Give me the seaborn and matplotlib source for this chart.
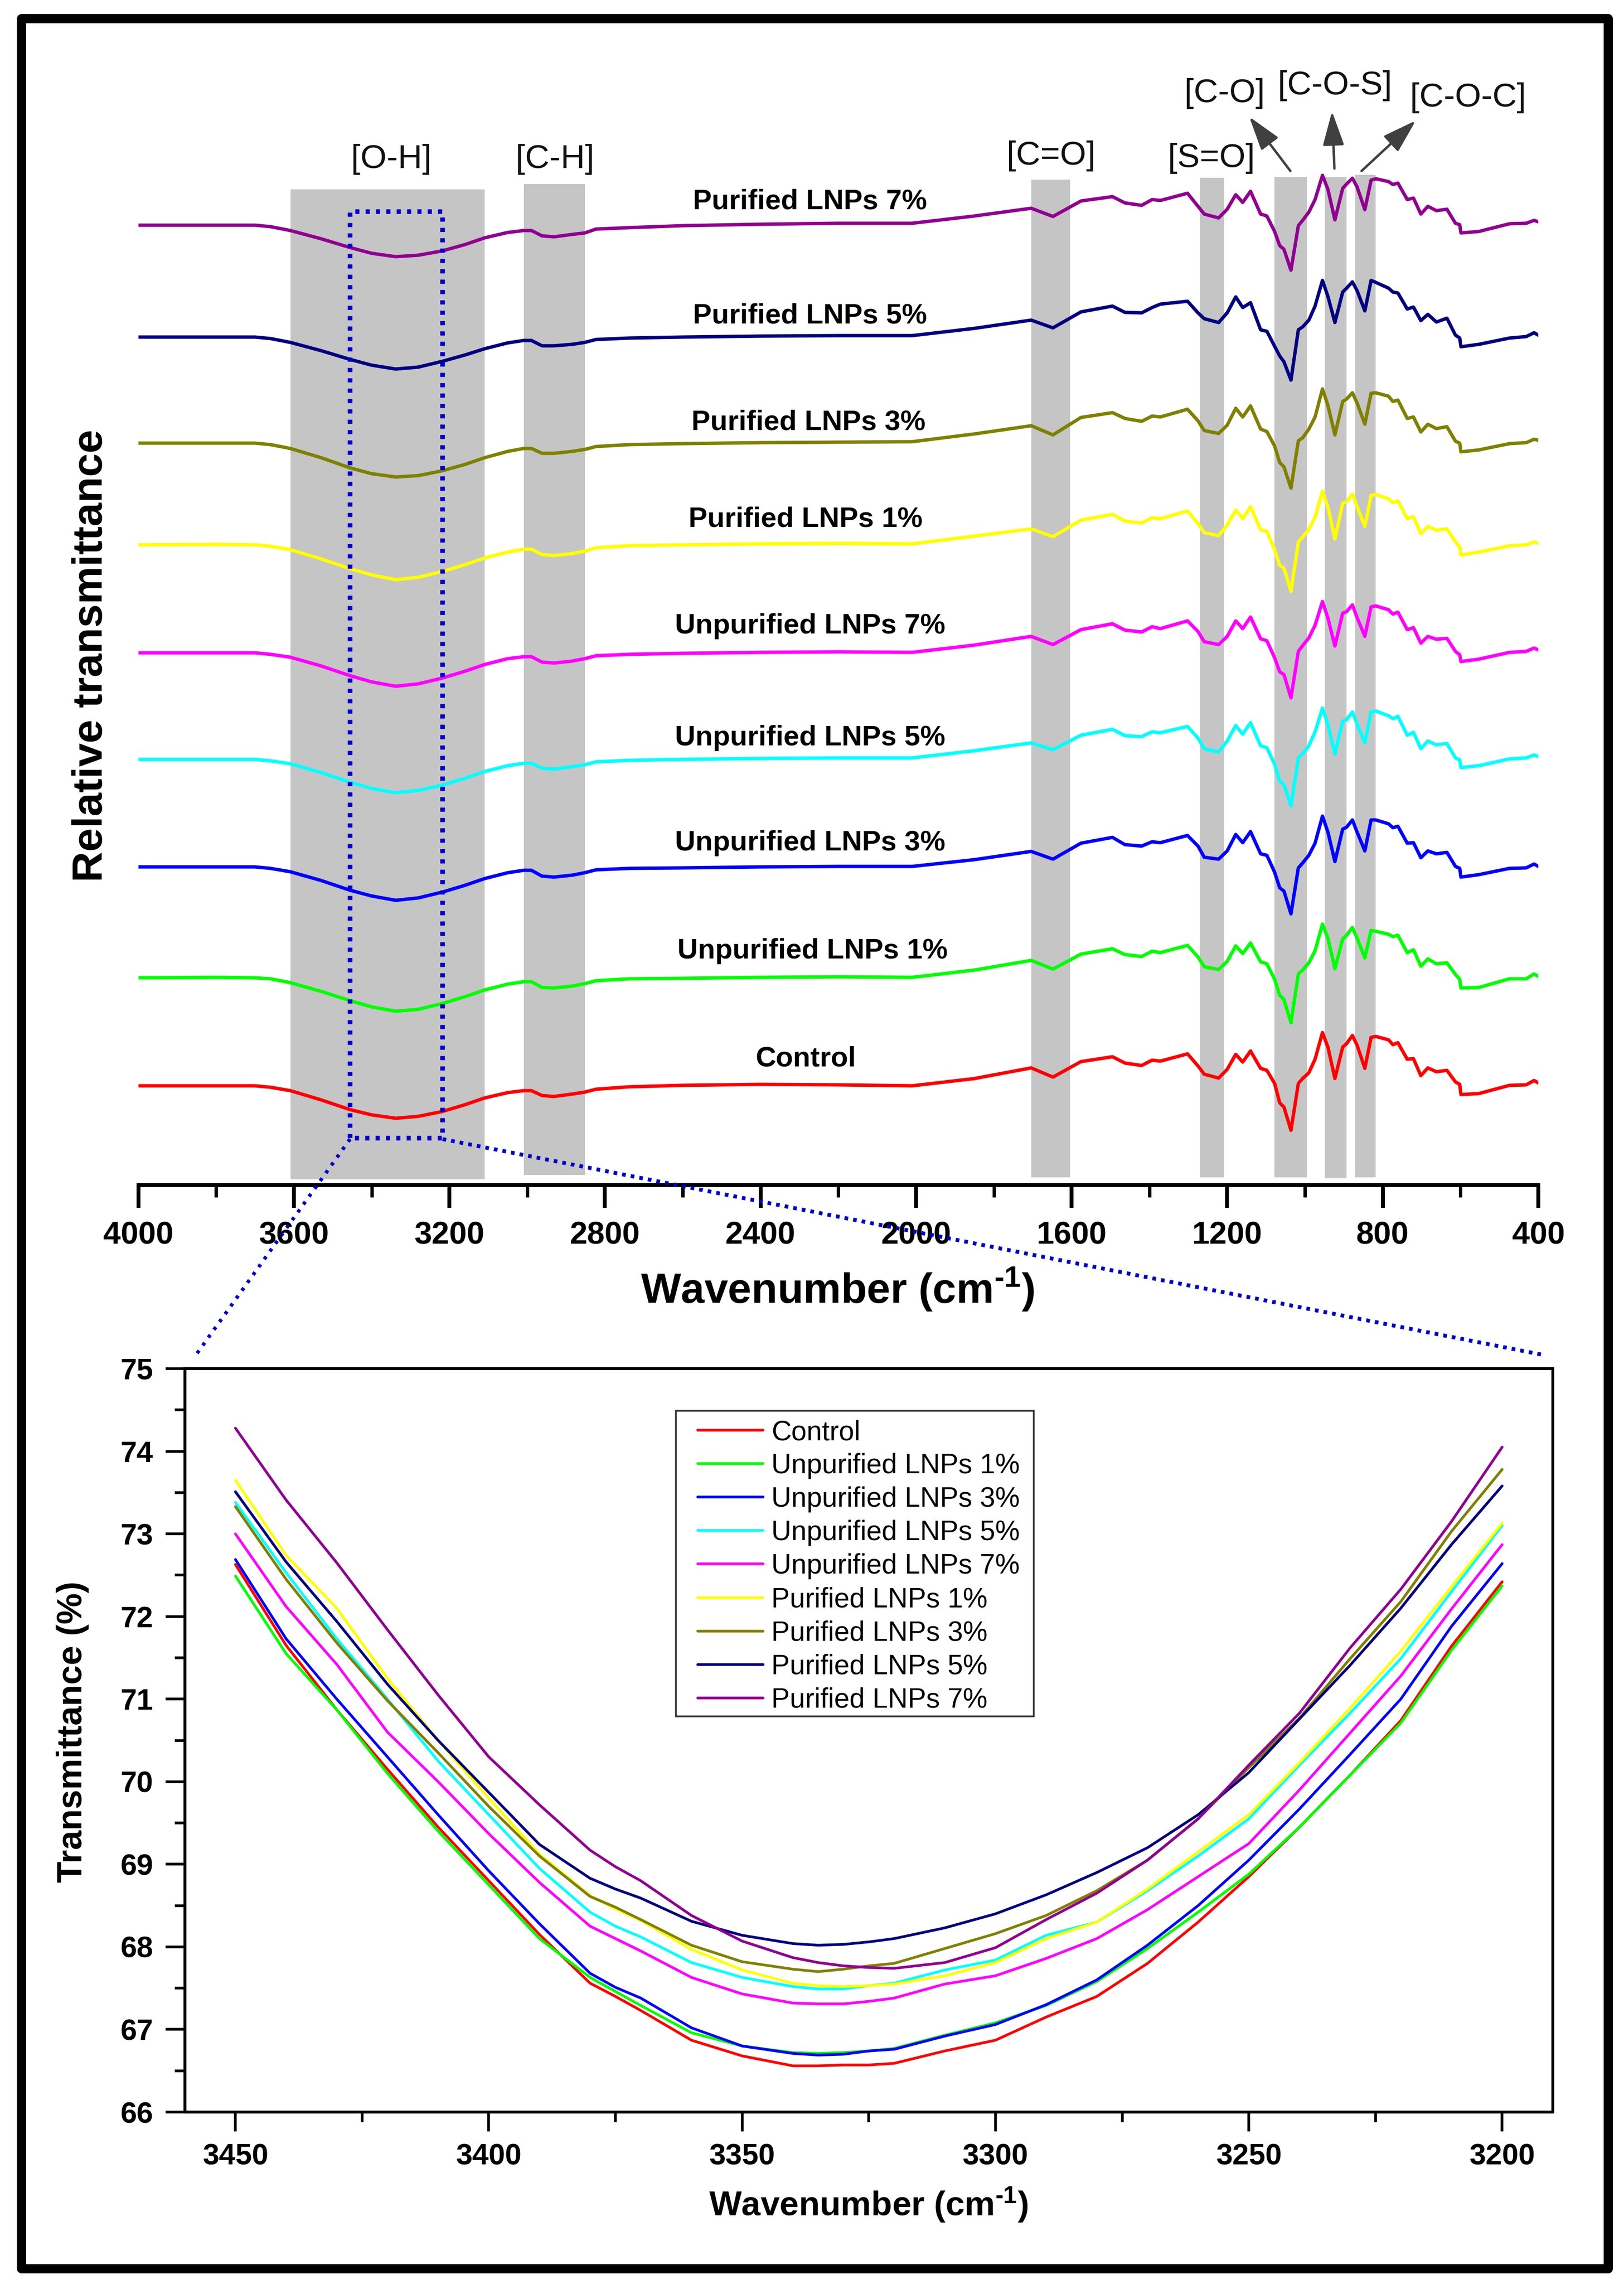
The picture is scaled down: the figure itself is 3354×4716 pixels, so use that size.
import pandas as pd
import seaborn as sns
import matplotlib.pyplot as plt
from matplotlib.patches import Rectangle

W, H = 3355, 4716
PT = 0.72  # px to pt at dpi 100

names = ['Control', 'Unpurified LNPs 1%', 'Unpurified LNPs 3%', 'Unpurified LNPs 5%',
         'Unpurified LNPs 7%', 'Purified LNPs 1%', 'Purified LNPs 3%', 'Purified LNPs 5%',
         'Purified LNPs 7%']
colors = ['#ff0000', '#00ff00', '#0000ff', '#00ffff', '#ff00ff', '#ffff00', '#808000',
          '#000080', '#900090']

# full spectra, each one relative to its own stacking offset
wavenumber = [4000, 3800, 3700, 3660, 3609, 3530, 3456, 3400, 3338, 3280, 3218, 3160, 3109, 3050,
              3009, 2989, 2962, 2931, 2884, 2852, 2823, 2737, 2600, 2400, 2200, 2010, 1850,
              1704, 1648, 1576, 1495, 1463, 1420, 1393, 1372, 1302, 1275, 1259, 1222, 1200,
              1178, 1160, 1140, 1114, 1098,
              1078, 1065, 1054, 1036, 1017, 1006, 990, 974, 955, 941, 923, 903, 893, 878,
              866, 846, 830, 818,
              785, 774, 761, 737, 721, 702, 684, 662, 635, 613, 602, 599, 553, 474, 431, 411, 400]
offsets = [205, 428, 657, 879, 1099, 1322, 1532, 1751, 1982]

control = [0, 0, 0, -3, -10, -29, -49, -60, -67, -63, -53, -39, -25, -14, -10, -10, -20, -22, -17,
           -13, -7, -2, 1, 3, 2, 0, 15,
           37, 18, 50, 60, 47, 42, 53, 51, 66, 41, 24, 16, 34, 65, 49, 72, 36, 32,
           5, -35, -44, -92, 5, 15, 27, 55, 110, 80, 15, 80, 87, 104, 84, 36, 100, 102,
           95, 85, 89, 55, 56, 21, 37, 29, 32, 8, 3, -18, -16, 1, 2, 11, 6]
unpurified_1 = [0, 1, 0, -2, -10, -28, -47, -60, -69, -65, -53, -39, -25, -13, -8, -8, -20, -21, -17,
                -12, -6, -2, -1, 1, 2, 1, 16,
                36, 18, 49, 60, 48, 44, 55, 52, 67, 43, 23, 17, 34, 66, 50, 72, 33, 29,
                -3, -36, -45, -93, 8, 16, 31, 56, 111, 82, 19, 80, 88, 104, 82, 41, 98, 96,
                90, 85, 88, 52, 58, 24, 39, 29, 31, 7, -3, -21, -20, -2, -2, 8, 3]
unpurified_3 = [0, 0, 0, -3, -10, -28, -48, -60, -69, -64, -52, -38, -24, -12, -7, -7, -19, -21, -17,
                -12, -6, -3, -2, 0, 1, 1, 15,
                32, 16, 49, 61, 46, 43, 52, 50, 65, 43, 20, 16, 33, 67, 50, 73, 27, 24,
                -11, -43, -50, -97, -2, 8, 24, 49, 105, 72, 11, 78, 82, 97, 72, 33, 97, 97,
                89, 81, 84, 49, 50, 19, 33, 27, 30, 1, -3, -21, -16, -3, -2, 6, 1]
unpurified_5 = [0, 0, 0, -3, -9, -27, -47, -60, -69, -64, -53, -39, -25, -13, -8, -8, -18, -20, -15,
                -11, -5, -2, 0, 2, 3, 3, 18,
                34, 20, 50, 62, 49, 47, 57, 55, 68, 44, 22, 15, 38, 70, 52, 76, 28, 24,
                -10, -45, -52, -96, 3, 12, 28, 57, 106, 72, 11, 79, 82, 98, 73, 34, 98, 100,
                90, 84, 89, 50, 56, 22, 38, 30, 33, 3, -1, -17, -13, 1, 3, 9, 6]
unpurified_7 = [0, 0, 0, -3, -9, -27, -47, -60, -69, -64, -52, -38, -24, -12, -8, -8, -19, -21, -17,
                -12, -6, -3, -1, 1, 2, 1, 16,
                34, 17, 48, 60, 47, 43, 54, 50, 66, 44, 23, 17, 34, 66, 50, 74, 29, 25,
                -10, -39, -45, -93, 3, 15, 31, 57, 106, 72, 14, 82, 85, 99, 73, 34, 95, 97,
                89, 80, 84, 48, 52, 20, 34, 28, 30, 3, -4, -18, -13, 1, 3, 10, 6]
purified_1 = [0, 1, 0, -3, -10, -29, -49, -62, -72, -67, -55, -41, -27, -15, -9, -9, -20, -22, -18,
              -13, -6, -2, 0, 2, 3, 2, 18,
              33, 17, 51, 63, 49, 45, 56, 54, 70, 44, 25, 19, 41, 72, 54, 79, 31, 28,
              -10, -42, -48, -96, 6, 16, 32, 57, 111, 78, 12, 86, 89, 105, 79, 38, 102, 104,
              95, 87, 91, 54, 58, 23, 38, 30, 33, 6, -4, -21, -15, -2, 0, 6, 3]
purified_3 = [0, 0, 0, -3, -11, -30, -51, -63, -70, -67, -57, -44, -30, -17, -11, -11, -21, -21, -17,
              -13, -7, -3, -1, 1, 2, 3, 19,
              36, 17, 53, 63, 51, 45, 56, 54, 70, 46, 26, 20, 37, 72, 54, 77, 29, 24,
              -6, -40, -49, -93, 5, 11, 29, 54, 112, 78, 17, 86, 91, 104, 83, 39, 103, 104,
              97, 86, 89, 51, 54, 23, 39, 30, 34, 4, 0, -18, -14, -1, 1, 8, 6]
purified_5 = [0, 0, 0, -3, -11, -28, -46, -58, -66, -62, -50, -37, -24, -12, -7, -7, -18, -18, -15,
              -11, -5, -2, 0, 2, 3, 3, 18,
              35, 19, 52, 64, 51, 50, 61, 68, 74, 50, 38, 30, 50, 83, 61, 71, 15, 12,
              -19, -39, -51, -89, 15, 21, 35, 64, 117, 84, 30, 93, 101, 114, 96, 54, 117, 113,
              101, 93, 91, 58, 62, 34, 47, 31, 39, 4, -2, -20, -15, -2, 1, 9, 4]
purified_7 = [0, 0, 0, -3, -11, -28, -46, -58, -65, -62, -53, -40, -26, -15, -11, -11, -22, -24, -19,
              -16, -8, -5, -1, 2, 4, 4, 19,
              35, 18, 50, 59, 46, 41, 53, 51, 66, 39, 23, 15, 33, 63, 47, 70, 23, 19,
              -13, -42, -50, -93, -1, 10, 27, 53, 103, 74, 11, 76, 85, 97, 79, 32, 93, 96,
              90, 84, 87, 53, 56, 23, 39, 30, 33, 4, 1, -16, -13, 3, 4, 10, 7]
spectra = [control, unpurified_1, unpurified_3, unpurified_5, unpurified_7,
           purified_1, purified_3, purified_5, purified_7]

# zoomed O-H region
zoom_wavenumber = [3450, 3440, 3430, 3420, 3410, 3400, 3390, 3380, 3375, 3370, 3360, 3350, 3340,
                   3335, 3330, 3325, 3320, 3310, 3300, 3290, 3280, 3270, 3260, 3250, 3240, 3230,
                   3220, 3210, 3200]
t_control = [72.63, 71.65, 70.87, 70.15, 69.45, 68.80, 68.15, 67.56, 67.40, 67.23, 66.87, 66.68, 66.56,
             66.56, 66.57, 66.57, 66.59, 66.74, 66.87, 67.15, 67.40, 67.80, 68.30, 68.85, 69.45, 70.08,
             70.74, 71.64, 72.42]
t_unpurified_1 = [72.49, 71.55, 70.87, 70.10, 69.40, 68.75, 68.10, 67.63, 67.46, 67.29, 66.96, 66.80, 66.72,
                  66.71, 66.72, 66.74, 66.77, 66.93, 67.08, 67.29, 67.58, 67.98, 68.42, 68.88, 69.45, 70.08,
                  70.71, 71.59, 72.37]
t_unpurified_3 = [72.69, 71.73, 71.00, 70.30, 69.60, 68.92, 68.28, 67.68, 67.51, 67.38, 67.02, 66.80, 66.71,
                  66.69, 66.70, 66.74, 66.76, 66.92, 67.06, 67.30, 67.60, 68.02, 68.50, 69.05, 69.67, 70.33,
                  71.00, 71.88, 72.64]
t_unpurified_5 = [73.38, 72.53, 71.73, 71.00, 70.25, 69.60, 68.95, 68.42, 68.25, 68.12, 67.81, 67.63, 67.52,
                  67.49, 67.49, 67.53, 67.56, 67.72, 67.84, 68.14, 68.30, 68.68, 69.10, 69.55, 70.20, 70.83,
                  71.49, 72.30, 73.10]
t_unpurified_7 = [73.00, 72.12, 71.42, 70.60, 70.00, 69.37, 68.78, 68.25, 68.10, 67.95, 67.63, 67.43, 67.32,
                  67.31, 67.31, 67.34, 67.38, 67.55, 67.65, 67.86, 68.10, 68.45, 68.85, 69.25, 69.90, 70.59,
                  71.28, 72.09, 72.87]
t_purified_1 = [73.65, 72.74, 72.10, 71.25, 70.50, 69.80, 69.12, 68.62, 68.46, 68.32, 67.97, 67.72, 67.56,
                67.53, 67.52, 67.53, 67.55, 67.65, 67.81, 68.10, 68.30, 68.70, 69.15, 69.60, 70.23, 70.89,
                71.58, 72.36, 73.13]
t_purified_3 = [73.33, 72.45, 71.68, 70.98, 70.35, 69.70, 69.10, 68.61, 68.48, 68.33, 68.02, 67.82, 67.73,
                67.70, 67.73, 67.77, 67.80, 67.98, 68.16, 68.38, 68.68, 69.05, 69.55, 70.17, 70.77, 71.49,
                72.18, 73.03, 73.78]
t_purified_5 = [73.51, 72.66, 71.94, 71.18, 70.50, 69.87, 69.24, 68.83, 68.70, 68.59, 68.31, 68.14, 68.04,
                68.02, 68.03, 68.06, 68.10, 68.23, 68.40, 68.63, 68.90, 69.20, 69.60, 70.11, 70.76, 71.41,
                72.10, 72.87, 73.58]
t_purified_7 = [74.28, 73.41, 72.65, 71.84, 71.05, 70.30, 69.72, 69.17, 68.97, 68.80, 68.38, 68.07, 67.87,
                67.81, 67.77, 67.75, 67.74, 67.81, 67.99, 68.33, 68.65, 69.05, 69.55, 70.20, 70.83, 71.62,
                72.33, 73.15, 74.05]
zoom_spectra = [t_control, t_unpurified_1, t_unpurified_3, t_unpurified_5, t_unpurified_7,
                t_purified_1, t_purified_3, t_purified_5, t_purified_7]

# shaded assignment bands: wavenumber limits and vertical extent on the spectrum axis
band_high = [3609, 3009, 1704, 1270, 1078, 949, 871]
band_low = [3109, 2852, 1604, 1208, 995, 893, 818]
band_bottom = [12, 21, 16, 16, 16, 14, 16]
band_top = [2056, 2067, 2076, 2080, 2082, 2082, 2086]

def long_table(xs, series):
    rows = []
    for name, ys in zip(names, series):
        rows.append(pd.DataFrame({'x': xs, 'y': ys, 'sample': name}))
    return pd.concat(rows, ignore_index=True)

sns.set_theme(style='white')
plt.rcParams['font.family'] = ['Liberation Sans', 'DejaVu Sans']
plt.rcParams['mathtext.fontset'] = 'custom'
plt.rcParams['mathtext.rm'] = 'Liberation Sans:bold'
plt.rcParams['mathtext.bf'] = 'Liberation Sans:bold'
plt.rcParams['mathtext.default'] = 'bf'

fig = plt.figure(figsize=(W / 100, H / 100), dpi=100, facecolor='white')
palette = dict(zip(names, colors))

# --- full spectra ---
top_l, top_r, top_t, top_b = 285.6, 3177, 300, 2447
ax1 = fig.add_axes([top_l / W, 1 - top_b / H, (top_r - top_l) / W, (top_b - top_t) / H])
ymax1 = top_b - top_t
for hi, lo, b0, b1 in zip(band_high, band_low, band_bottom, band_top):
    ax1.axvspan(hi, lo, ymin=b0 / ymax1, ymax=b1 / ymax1, color='#c5c5c5', lw=0, zorder=0)

stacked = [[v + off for v in s] for s, off in zip(spectra, offsets)]
sns.lineplot(data=long_table(wavenumber, stacked), x='x', y='y', hue='sample', palette=palette,
             estimator=None, legend=False, lw=7 * PT, ax=ax1, zorder=3)
ax1.set_xlim(4000, 400)
ax1.set_ylim(0, ymax1)
ax1.patch.set_alpha(0)
for side in ['top', 'left', 'right']:
    ax1.spines[side].set_visible(False)
ax1.spines['bottom'].set_linewidth(8 * PT)
ax1.spines['bottom'].set_color('black')
ax1.set_xticks(range(400, 4001, 400))
ax1.set_xticks(range(600, 4000, 400), minor=True)
ax1.set_yticks([])
ax1.tick_params(axis='x', which='major', bottom=True, length=47 * PT, width=8 * PT, color='black',
                labelsize=47, labelcolor='black', pad=20)
ax1.tick_params(axis='x', which='minor', bottom=True, length=25 * PT, width=7 * PT, color='black')
for t in ax1.get_xticklabels():
    t.set_fontweight('bold')
ax1.set_xlabel(r'Wavenumber (cm$^{\text{-1}}$)', fontsize=63, fontweight='bold', color='black')
ax1.xaxis.set_label_coords((1730 - top_l) / (top_r - top_l), -(2663 - top_b) / (top_b - top_t))
ax1.xaxis.label.set_va('center')
ax1.set_ylabel('Relative transmittance', fontsize=63, fontweight='bold', color='black')
ax1.yaxis.set_label_coords((188 - top_l) / (top_r - top_l), (top_b - 1354) / (top_b - top_t))
ax1.yaxis.label.set_va('center')

# --- O-H zoom ---
low_l, low_r, low_t, low_b = 381.6, 3207, 2826, 4361
ax2 = fig.add_axes([low_l / W, 1 - low_b / H, (low_r - low_l) / W, (low_b - low_t) / H])
sns.lineplot(data=long_table(zoom_wavenumber, zoom_spectra), x='x', y='y', hue='sample',
             palette=palette, estimator=None, lw=5.5 * PT, ax=ax2)
ax2.set_xlim(3460, 3190)
ax2.set_ylim(66, 75)
for side in ax2.spines:
    ax2.spines[side].set_linewidth(6 * PT)
    ax2.spines[side].set_color('black')
ax2.set_xticks(range(3200, 3451, 50))
ax2.set_xticks(range(3225, 3450, 50), minor=True)
ax2.set_yticks(range(66, 76))
ax2.set_yticks([66.5 + i for i in range(9)], minor=True)
ax2.tick_params(axis='both', which='major', bottom=True, left=True, length=40 * PT, width=5.5 * PT,
                color='black', labelsize=44, labelcolor='black', pad=18)
ax2.tick_params(axis='both', which='minor', bottom=True, left=True, length=21 * PT, width=5.5 * PT,
                color='black')
for t in ax2.get_xticklabels() + ax2.get_yticklabels():
    t.set_fontweight('bold')
ax2.set_xlabel(r'Wavenumber (cm$^{\text{-1}}$)', fontsize=51, fontweight='bold', color='black')
ax2.xaxis.set_label_coords((1794 - low_l) / (low_r - low_l), -(4553 - low_b) / (low_b - low_t))
ax2.xaxis.label.set_va('center')
ax2.set_ylabel('Transmittance (%)', fontsize=52, fontweight='bold', color='black')
ax2.yaxis.set_label_coords((150 - low_l) / (low_r - low_l), (low_b - 3576) / (low_b - low_t))
ax2.yaxis.label.set_va('center')

# legend box is drawn on the overlay, the entries start at the first handle
handles, labels = ax2.get_legend_handles_labels()
leg = ax2.legend(handles, labels, loc='upper left',
                 bbox_to_anchor=((1441 - low_l) / (low_r - low_l), (low_b - 2931) / (low_b - low_t)),
                 borderaxespad=0, borderpad=0, fontsize=41, frameon=False, handlelength=2.37,
                 handletextpad=0.3, labelspacing=0.265, labelcolor='black')
for line in leg.get_lines():
    line.set_linewidth(5.5 * PT)

# --- annotations live on a full-figure overlay in picture pixels ---
over = fig.add_axes([0, 0, 1, 1], zorder=10)
over.set_xlim(0, W)
over.set_ylim(H, 0)
over.axis('off')

over.add_patch(Rectangle((44, 38), 3277, 4646, fill=False, edgecolor='black', lw=19 * PT,
                         joinstyle='round'))
over.add_patch(Rectangle((1396, 2913), 739, 631, fill=False, edgecolor='#333333', lw=3.5 * PT))

spectrum_labels = ['Control', 'Unpurified LNPs 1%', 'Unpurified LNPs 3%', 'Unpurified LNPs 5%',
                   'Unpurified LNPs 7%', 'Purified LNPs 1%', 'Purified LNPs 3%', 'Purified LNPs 5%',
                   'Purified LNPs 7%']
label_x = [1664, 1678, 1673, 1673, 1673, 1664, 1670, 1673, 1673]
label_y = [2187, 1964, 1741, 1524, 1293, 1073, 872, 652, 417]
for s, lx, ly in zip(spectrum_labels, label_x, label_y):
    over.text(lx, ly, s, fontsize=42, fontweight='bold', color='black', ha='center', va='center')

peak_names = ['[O-H]', '[C-H]', '[C=O]', '[S=O]', '[C-O]', '[C-O-S]', '[C-O-C]']
peak_x = [808, 1146, 2171, 2502, 2529, 2757, 3032]
peak_y = [329, 329, 322, 327, 193, 177, 202]
for s, px, py in zip(peak_names, peak_x, peak_y):
    over.text(px, py, s, fontsize=50, color='#111111', ha='center', va='center')

arrow_tail = [(2665, 353), (2756, 348), (2812, 353)]
arrow_tip = [(2580, 241), (2751, 230), (2924, 249)]
for tail, tip in zip(arrow_tail, arrow_tip):
    over.annotate('', xy=tip, xytext=tail,
                  arrowprops=dict(arrowstyle='-|>,head_length=2.4,head_width=0.75', mutation_scale=18,
                                  color='#404040', lw=5 * PT, shrinkA=0, shrinkB=0))

dot_blue = '#0000cc'
over.plot([723, 723, 914, 914, 723], [2350, 437, 437, 2350, 2350], color=dot_blue, lw=9.5 * PT,
          dashes=(0.9, 1.35), dash_capstyle='butt')
over.plot([723, 403], [2352, 2800], color=dot_blue, lw=7.5 * PT, dashes=(0.9, 1.75), dash_capstyle='butt')
over.plot([914, 3184], [2352, 2797], color=dot_blue, lw=8 * PT, dashes=(0.95, 1.3), dash_capstyle='butt')

fig.savefig('out.png', dpi=100)
